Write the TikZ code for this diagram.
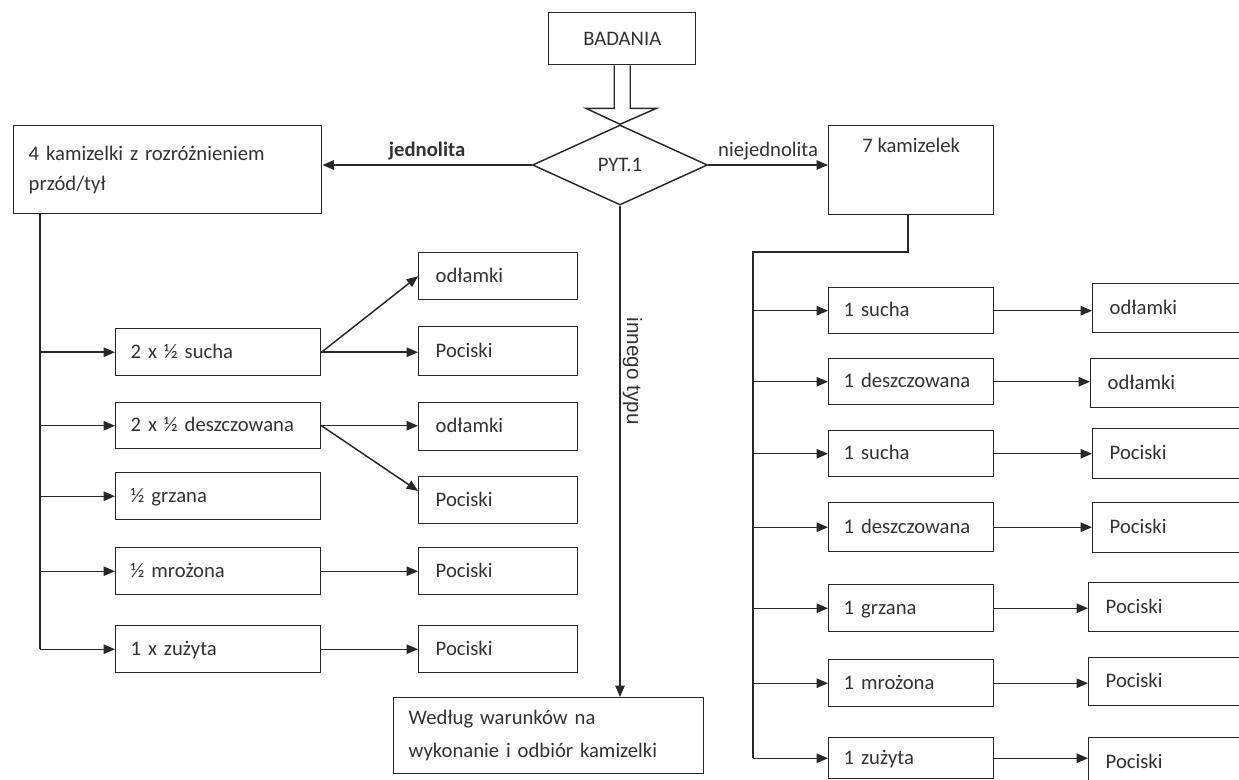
\documentclass[tikz,border=0pt]{standalone}
\usepackage{fontspec}
\setmainfont{Carlito}
\newfontfamily\arialf{Liberation Sans}
\usetikzlibrary{shapes.geometric,arrows.meta,calc}
\definecolor{lnc}{RGB}{40,40,40}
\definecolor{txc}{RGB}{50,50,50}
\newcommand{\fs}{\fontsize{15.5}{22.5}\selectfont}
\begin{document}
\begin{tikzpicture}[x=0.75pt, y=-0.75pt,
  every node/.style={text=txc, font=\fs},
  wire/.style={draw=lnc, line width=1.1pt},
  ar/.style={draw=lnc, line width=1.1pt, -{Triangle[length=8.5pt,width=7pt]}},
  bx/.style={draw=lnc, line width=1.1pt, rectangle, anchor=north west, inner ysep=0pt, align=left},
  one/.style={text height=10pt, text depth=1pt},
  ht/.style={minimum height=#1*0.75pt},
  colA/.style={bx, one, text width=131.25pt, inner xsep=11.25pt},
  colB/.style={bx, one, text width=93.75pt, inner xsep=12.75pt},
  colM/.style={bx, one, text width=101.25pt, inner xsep=11.25pt},
  colO/.style={bx, one, text width=94.5pt, inner xsep=12.75pt},
  lbl/.style={inner sep=3.5pt}
]
\useasboundingbox (0,0) rectangle (1239,780);
\clip (0,0) rectangle (1239,780);

% top
\node[bx, align=center, minimum width=110.25pt, ht=52] (bad) at (548,12) {BADANIA};
\node[draw=lnc, line width=1.1pt, diamond, aspect=2.2, minimum width=131.25pt, minimum height=60pt, inner sep=0pt] (pyt) at (620,165) {PYT.1};
\draw[wire] ($(bad.south)+(-8,0)$) -- ++(0,43) -- ++(-28,0) -- (pyt.north) -- ($(bad.south)+(34,43)$) -- ++(-26,0) -- ($(bad.south)+(8,0)$);

% main boxes
\node[bx, text width=208.5pt, inner xsep=11.25pt, ht=88] (k4) at (13,125) {4 kamizelki z rozróżnieniem\\przód/tył};
\node[bx, minimum width=123.75pt, ht=89, label={[anchor=base, yshift=-21pt]north:7 kamizelek}] (k7) at (828,125) {};
\node[bx, text width=210pt, inner xsep=11.25pt, ht=76, font=\fontsize{15.5}{24.75}\selectfont] (wed) at (393,697) {Według warunków na\\wykonanie i odbiór kamizelki};

\draw[ar] (pyt.west) -- node[above, lbl, font=\fs\bfseries] {jednolita} (pyt.west -| k4.east);
\draw[ar] (pyt.east) -- node[above, lbl] {niejednolita} (pyt.east -| k7.west);
\draw[ar] (pyt.south) -- node[pos=0.337, rotate=-90, anchor=south, inner sep=1.5pt, font=\arialf\fontsize{15.5}{18}\selectfont] {innego typu} (pyt.south |- wed.north);

% left column
\node[colA, ht=47] (a1) at (115,328) {2 x ½ sucha};
\node[colA, ht=46] (a2) at (115,402) {\mbox{2 x ½ deszczowana}};
\node[colA, ht=47] (a3) at (115,472) {½ grzana};
\node[colA, ht=47] (a4) at (115,547) {½ mrożona};
\node[colA, ht=47] (a5) at (115,625) {1 x zużyta};

\node[colB, ht=47] (b1) at (418,252) {odłamki};
\node[colB, ht=49] (b2) at (418,326) {Pociski};
\node[colB, ht=48] (b3) at (418,402) {odłamki};
\node[colB, ht=47] (b4) at (418,476) {Pociski};
\node[colB, ht=47] (b5) at (418,547) {Pociski};
\node[colB, ht=47] (b6) at (418,625) {Pociski};

\coordinate (t4) at ([xshift=20.25pt]k4.south west);
\draw[wire] (t4) -- (t4 |- a5.west);
\foreach \n in {a1,a2,a3,a4,a5} \draw[ar] (t4 |- \n.west) -- (\n.west);

\draw[ar] (a1.east) -- (b1.west);
\draw[ar] (a1.east) -- (a1.east -| b2.west);
\draw[ar] (a2.east) -- (a2.east -| b3.west);
\draw[ar] (a2.east) -- ([yshift=7pt]b4.west);
\draw[ar] (a4.east) -- (a4.east -| b5.west);
\draw[ar] (a5.east) -- (a5.east -| b6.west);

% right column
\node[colM, ht=46] (m1) at (828,287) {1 sucha};
\node[colM, ht=46] (m2) at (828,358) {\mbox{1 deszczowana}};
\node[colM, ht=46] (m3) at (828,430) {1 sucha};
\node[colM, ht=49] (m4) at (828,502) {\mbox{1 deszczowana}};
\node[colM, ht=47] (m5) at (828,584) {1 grzana};
\node[colM, ht=47] (m6) at (828,659) {1 mrożona};
\node[colM, ht=41] (m7) at (828,737) {1 zużyta};

\node[colO, ht=49] (o1) at (1092,283) {odłamki};
\node[colO, ht=49] (o2) at (1090,358) {odłamki};
\node[colO, ht=50] (o3) at (1092,428) {Pociski};
\node[colO, ht=50] (o4) at (1092,502) {Pociski};
\node[colO, ht=49] (o5) at (1088,582) {Pociski};
\node[colO, ht=48] (o6) at (1088,657) {Pociski};
\node[colO, ht=49] (o7) at (1088,737) {Pociski};

\coordinate (r7) at (753,252);
\draw[wire] ([xshift=-2.6pt]k7.south) |- (r7) -- (r7 |- m7.west);
\foreach \n in {m1,m2,m3,m4,m5,m6,m7} \draw[ar] (r7 |- \n.west) -- (\n.west);
\foreach \m/\o in {m1/o1,m2/o2,m3/o3,m4/o4,m5/o5,m6/o6,m7/o7} \draw[ar] (\m.east) -- (\m.east -| \o.west);
\end{tikzpicture}
\end{document}
